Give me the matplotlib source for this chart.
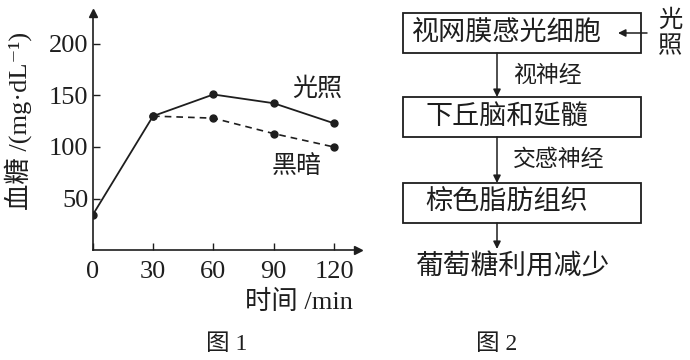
"""Figure 1 (blood glucose vs time) and Figure 2 (light pathway diagram)."""

import matplotlib
matplotlib.use('Agg')
import matplotlib.pyplot as plt
from matplotlib.patches import Rectangle

plt.rcParams['font.family'] = ['Liberation Serif', 'DejaVu Serif', 'Noto Sans CJK SC']
plt.rcParams['axes.unicode_minus'] = False

ink = '#1e1e1e'

# data for figure 1
time_min = [0, 30, 60, 90, 120]
light = [34, 130, 151, 142.5, 123]
dark_time = [30, 60, 90, 120]
dark = [130, 128, 113, 100]
xticks = [0, 30, 60, 90, 120]
yticks = [50, 100, 150, 200]

# labels for figure 2
boxes = ['视网膜感光细胞', '下丘脑和延髓', '棕色脂肪组织']
links = ['视神经', '交感神经']
result = '葡萄糖利用减少'

W, H = 690, 360
fig = plt.figure(figsize=(W / 100, H / 100), dpi=100)

# full-figure canvas in pixel units for the diagram and captions
cv = fig.add_axes([0, 0, 1, 1])
cv.set_xlim(0, W)
cv.set_ylim(H, 0)
cv.axis('off')

# ---- figure 1 ----
x0, y0 = 92.7, 250.0
xs, ys = 2.011, 1.03
xmax, ymax = 132, 230
ax = fig.add_axes([x0 / W, 1 - y0 / H, xmax * xs / W, ymax * ys / H])
ax.patch.set_alpha(0)
ax.plot(time_min, light, color=ink, lw=1.3, marker='o', ms=5)
ax.plot(dark_time, dark, color=ink, lw=1.2, ls=(0, (4, 3)), marker='o', ms=5)
ax.set_xlim(0, xmax)
ax.set_ylim(0, ymax)
ax.set_xticks(xticks)
ax.set_yticks(yticks)
ax.tick_params(direction='in', length=5, width=1, colors=ink, labelsize=19, pad=3)
ax.tick_params(axis='x', pad=8)
for s in ['top', 'right']:
    ax.spines[s].set_visible(False)
for s in ['left', 'bottom']:
    ax.spines[s].set_color(ink)
    ax.spines[s].set_linewidth(1.2)
ax.plot(1, 0, '>', color=ink, ms=6, transform=ax.transAxes, clip_on=False)
ax.plot(0, 1, '^', color=ink, ms=6, transform=ax.transAxes, clip_on=False)
ax.text(99, 156, '光照', fontsize=18, color=ink, ha='left', va='center')
ax.text(89, 81, '黑暗', fontsize=18, color=ink, ha='left', va='center')

cv.text(353, 302, '时间 /min', fontsize=19, color=ink, ha='right', va='center')
cv.text(18, 121, '血糖 /(mg·dL⁻¹)', fontsize=19, color=ink, rotation=90,
        ha='center', va='center')
cv.text(227, 344, '图 1', fontsize=17, color=ink, ha='center', va='center')

# ---- figure 2 ----
bx0, bx1 = 403, 641
box_top = [13, 97, 183]
box_h = 40
arrow_x = 497
text_x = 507
for name, top in zip(boxes, box_top):
    cv.add_patch(Rectangle((bx0, top), bx1 - bx0, box_h, fill=False, ec=ink, lw=1.3))
    cv.text(text_x, top + box_h / 2, name, fontsize=19.5, color=ink,
            ha='center', va='center')

arrow_props = dict(arrowstyle='-|>', color=ink, lw=1.1, mutation_scale=11,
                   shrinkA=0, shrinkB=0)
for i, top in enumerate(box_top):
    end = box_top[i + 1] if i + 1 < len(box_top) else top + box_h + 26
    cv.annotate('', xy=(arrow_x, end), xytext=(arrow_x, top + box_h), arrowprops=arrow_props)
for name, top in zip(links, box_top[:-1]):
    cv.text(513, top + box_h + 23, name, fontsize=16.5, color=ink, ha='left', va='center')
cv.text(512, 268, result, fontsize=20, color=ink, ha='center', va='center')

cv.annotate('', xy=(618, 33), xytext=(647, 33), arrowprops=arrow_props)
cv.text(670, 34, '光\n照', fontsize=17.5, color=ink, ha='center', va='center', linespacing=1.3)
cv.text(497, 344, '图 2', fontsize=17, color=ink, ha='center', va='center')

fig.savefig('out.png', dpi=100, facecolor='white')
